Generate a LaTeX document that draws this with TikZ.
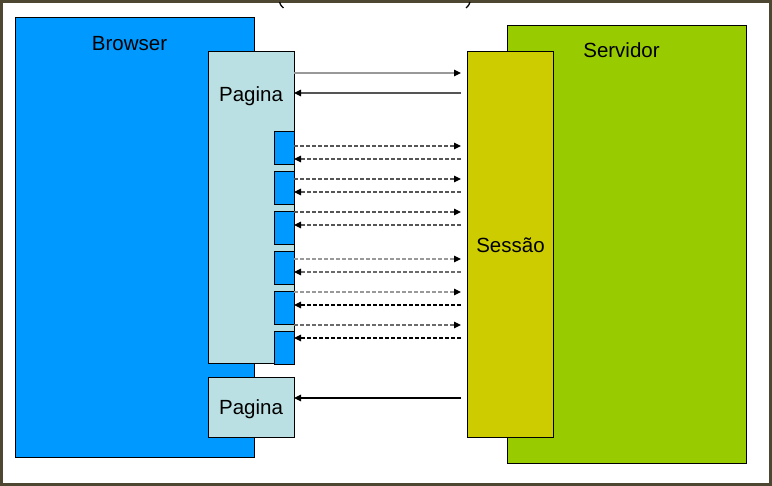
\documentclass[tikz,border=0pt]{standalone}
\usepackage{fontspec}
\setmainfont{Liberation Sans}
\usetikzlibrary{arrows.meta}
\definecolor{brblue}{HTML}{0099FF}
\definecolor{pglight}{HTML}{BBE0E3}
\definecolor{svgreen}{HTML}{99CC00}
\definecolor{sesyel}{HTML}{CCCC00}
\definecolor{frame}{HTML}{4D4631}
\definecolor{arrgray}{HTML}{999999}
\definecolor{arrdark}{HTML}{555555}
\tikzset{
  box/.style={draw=black, line width=1pt, inner sep=0pt, outer sep=0pt, anchor=north west},
  lbl/.style={font=\fontsize{20.5}{24}\selectfont, inner sep=0pt},
  tip/.style={-{Triangle[length=7pt,width=6.5pt,color=black]}},
  msg/.style={tip, line width=1.2pt},
  dsh/.style={msg, dash pattern=on 4pt off 2pt},
}
\begin{document}
\begin{tikzpicture}[x=1pt,y=-1pt]
\useasboundingbox (0,0) rectangle (772,486);
\fill[white] (0,0) rectangle (772,486);
% outer frame
\draw[frame, line width=3pt] (1.5,1.5) rectangle (770.5,484.5);
% cut-off parentheses at the top
\draw[black, line width=1.3pt] (279.5,2) .. controls (280.5,5) .. (283.5,8);
\draw[black, line width=1.3pt] (470,2) .. controls (469,5) .. (466,8);
% big containers
\node[box, fill=brblue, minimum width=239pt, minimum height=440pt] (browser) at (15,18) {};
\node[box, fill=svgreen, minimum width=239pt, minimum height=438pt] (servidor) at (507,26) {};
\node[lbl] (browserlbl) at (129.5,44) {Browser};
\node[lbl] (servidorlbl) at (621.5,50) {Servidor};
% pages
\node[box, fill=pglight, minimum width=86pt, minimum height=312pt] (pag1) at (208,52) {};
\node[lbl] (pag1lbl) at (251,96) {Pagina};
\node[box, fill=pglight, minimum width=86pt, minimum height=60pt] (pag2) at (208,378) {};
\node[lbl] (pag2lbl) at (251,409) {Pagina};
% session
\node[box, fill=sesyel, minimum width=86pt, minimum height=386pt] (ses) at (467,52) {};
\node[lbl] (seslbl) at (510.5,245) {Sessão};
% small blue boxes
\foreach \i/\y in {1/132,2/172,3/212,4/252,5/292,6/332}{
  \node[box, fill=brblue, minimum width=20pt, minimum height=33pt] (sb\i) at (274,\y) {};
}
% solid messages
\draw[msg, arrgray] (pag1.east |- 0,73) -- ([xshift=-6pt]ses.west |- 0,73);
\draw[msg, arrdark] ([xshift=-6pt]ses.west |- 0,93) -- (pag1.east |- 0,93);
\draw[msg, black] ([xshift=-6pt]ses.west |- 0,398) -- (pag2.east |- 0,398);
% dashed messages
\draw[dsh, arrdark] (sb1.east |- 0,146) -- ([xshift=-6pt]ses.west |- 0,146);
\draw[dsh, arrdark] ([xshift=-6pt]ses.west |- 0,159) -- (sb1.east |- 0,159);
\draw[dsh, arrdark] (sb2.east |- 0,179) -- ([xshift=-6pt]ses.west |- 0,179);
\draw[dsh, arrdark] ([xshift=-6pt]ses.west |- 0,192) -- (sb2.east |- 0,192);
\draw[dsh, arrdark] (sb3.east |- 0,212) -- ([xshift=-6pt]ses.west |- 0,212);
\draw[dsh, arrdark] ([xshift=-6pt]ses.west |- 0,225) -- (sb3.east |- 0,225);
\draw[dsh, arrgray] (sb4.east |- 0,259) -- ([xshift=-6pt]ses.west |- 0,259);
\draw[dsh, arrgray!70!black] ([xshift=-6pt]ses.west |- 0,272) -- (sb4.east |- 0,272);
\draw[dsh, arrgray] (sb5.east |- 0,292) -- ([xshift=-6pt]ses.west |- 0,292);
\draw[dsh, black] ([xshift=-6pt]ses.west |- 0,305) -- (sb5.east |- 0,305);
\draw[dsh, arrgray!70!black] (sb6.east |- 0,325) -- ([xshift=-6pt]ses.west |- 0,325);
\draw[dsh, black] ([xshift=-6pt]ses.west |- 0,338) -- (sb6.east |- 0,338);
\end{tikzpicture}
\end{document}
